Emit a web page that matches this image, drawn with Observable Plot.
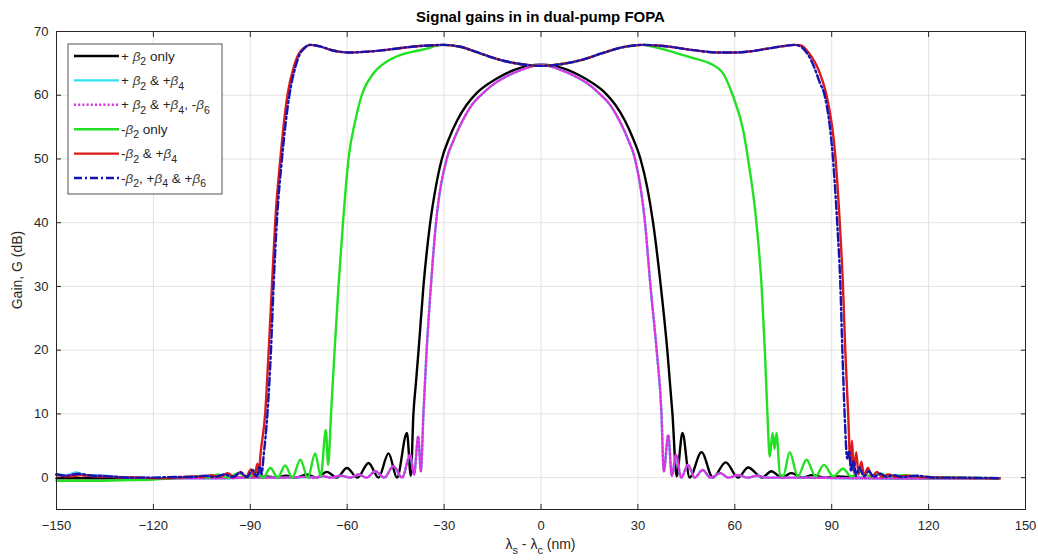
<!DOCTYPE html>
<html><head><meta charset="utf-8">
<script src="https://cdn.jsdelivr.net/npm/d3@7"></script>
<script src="https://cdn.jsdelivr.net/npm/@observablehq/plot@0.6"></script>
<style>
body{margin:0;background:#fff;}
#chart{width:1038px;height:560px;}
svg{font-family:"Liberation Sans",Arial,Helvetica,sans-serif;}
</style></head><body><div id="chart"></div>
<script>
const titleText = "Signal gains in in dual-pump FOPA";
const xLabel = "λ_s - λ_c (nm)";
const yLabel = "Gain, G (dB)";
const xTicks = [-150,-120,-90,-60,-30,0,30,60,90,120,150];
const yTicks = [0,10,20,30,40,50,60,70];

const seriesNames = ["+ β_2 only","+ β_2 & +β_4","+ β_2 & +β_4, -β_6","-β_2 only","-β_2 & +β_4","-β_2, +β_4 & +β_6"];
const seriesColors = ["#000000","#33e0f0","#e030e0","#22e022","#dd1a1a","#1414b4"];
const seriesDash = [null,null,"2,2.2",null,null,"8,3,2,3"];

const black = [[-150,-0.1],[-135,-0.1],[-120,-0.1],[-105,0],[-95,0],[-88,0.05],[-85,0.2],[-82,0],[-79,0.3],[-76,0],[-72.5,0.5],[-69.5,0],[-66.3,0.9],[-63.2,0],[-60.1,1.5],[-56.8,0],[-53.4,2.3],[-50.3,0],[-47.2,3.8],[-44.6,0],[-41.5,7.0],[-40.3,0.3],[-39.5,10],[-38.7,15],[-37.9,20],[-36.4,30],[-34.3,40],[-32.6,45.5],[-30.7,50],[-28.5,53.2],[-26,56],[-23,58.5],[-20,60.3],[-16,61.9],[-12,63.1],[-8,64],[-4,64.6],[0,64.8],[4,64.6],[8,64],[12,63.1],[16,61.9],[20,60.3],[23,58.5],[26,56],[28.5,53.2],[30.8,50],[32.9,45.5],[34.7,40],[37.1,30],[39.1,20],[40.7,10],[42,0.2],[43.8,7.0],[46,0],[49.7,4.0],[53.2,0],[57.2,2.4],[61,0],[64.1,1.6],[68.5,0],[71.3,1.0],[74.5,0],[77.5,0.7],[81,0],[84,0.4],[88,0],[92,0.2],[97,0],[110,-0.1],[125,-0.1],[142,-0.1]];

const cyan = [[-150,0.6],[-147,0.4],[-144,0.8],[-141,0.4],[-137,0.4],[-132,0.15],[-125,0],[-115,-0.1],[-100,-0.1],[-90,0],[-80,0],[-73,0.1],[-70,0],[-67.5,0.2],[-65,0],[-62,0.3],[-59,0],[-56.5,0.5],[-54,0],[-51.3,1.0],[-48.5,0],[-45.7,1.8],[-43,0],[-40.5,3.5],[-39.3,0.5],[-38,6.4],[-37.2,1],[-36.4,10],[-35.4,20],[-34.1,30],[-32.5,40],[-29.2,50],[-27,53],[-24.5,55.8],[-21.5,58.4],[-18,60.3],[-14.5,61.8],[-10.5,63],[-6.5,63.9],[-3,64.5],[0,64.8],[3,64.5],[6.5,63.9],[10.5,63],[14.5,61.8],[18,60.3],[21.5,58.4],[24.5,55.8],[27,53],[29.1,50],[32.2,40],[33.9,30],[35.8,20],[37.3,10],[38,1],[39.4,6.6],[40.5,0.3],[41.8,3.5],[43.4,0],[45.5,2.0],[47.6,0],[50,1.2],[52.5,0],[55.5,0.7],[58,0],[61,0.4],[64,0],[67,0.3],[70,0],[80,0],[100,-0.1],[120,-0.1],[142,-0.1]];

const magenta = [[-150,0.5],[-147,0.3],[-144,0.6],[-141,0.3],[-137,0.3],[-132,0.1],[-125,0],[-115,-0.1],[-100,-0.1],[-90,0],[-80,0],[-73,0.1],[-70,0],[-67.5,0.2],[-65,0],[-62,0.3],[-59,0],[-56.5,0.5],[-54,0],[-51.3,1.0],[-48.5,0],[-45.7,1.8],[-43,0],[-40.5,3.6],[-39.3,0.5],[-38,6.5],[-37.2,1],[-36.4,10],[-35.4,20],[-34.1,30],[-32.5,40],[-29.2,50],[-27,53],[-24.5,55.8],[-21.5,58.4],[-18,60.3],[-14.5,61.8],[-10.5,63],[-6.5,63.9],[-3,64.5],[0,64.8],[3,64.5],[6.5,63.9],[10.5,63],[14.5,61.8],[18,60.3],[21.5,58.4],[24.5,55.8],[27,53],[29.1,50],[32.2,40],[33.9,30],[35.8,20],[37.3,10],[38,1],[39.4,6.7],[40.5,0.3],[41.8,3.6],[43.4,0],[45.5,2.0],[47.6,0],[50,1.2],[52.5,0],[55.5,0.7],[58,0],[61,0.4],[64,0],[67,0.3],[70,0],[80,0],[100,-0.1],[120,-0.1],[142,-0.1]];

const green = [[-150,-0.5],[-140,-0.5],[-130,-0.4],[-120,-0.3],[-112,0],[-106,0.2],[-103,0],[-100,0.5],[-97,0],[-93.5,0.7],[-91,0],[-88.3,1.0],[-86,0],[-83.8,1.5],[-81.5,0],[-79.2,1.9],[-77,0],[-74.5,2.8],[-72.2,0],[-69.9,3.8],[-68.2,0.2],[-66.6,7.5],[-65.9,2.0],[-65,10],[-63.9,20],[-62.7,30],[-61.3,40],[-59.6,50],[-57.5,56],[-55.5,60],[-51.9,63.4],[-47.7,65.3],[-43.6,66.3],[-39,66.9],[-35.4,67.3],[-32.3,67.8],[-30.2,67.9],[-25,67.6],[-19,66.6],[-13,65.6],[-6.5,64.9],[0,64.6],[6.5,64.9],[13,65.6],[19,66.6],[25,67.5],[31.6,67.9],[33.7,67.7],[38,67.2],[44,66.3],[48,65.7],[52.3,65],[56.4,63.4],[59.5,59.8],[62.6,54.5],[64.1,50],[66.7,40],[68.3,30],[69.3,20],[70.1,10],[70.8,3.3],[71.7,7.0],[72.3,4.5],[72.9,7.0],[74,0.5],[75,0.3],[77,4.0],[79.5,0.2],[82.2,2.8],[85,0.2],[87.6,2.0],[90.5,0.2],[93.5,1.4],[96,0.2],[99,0.9],[102,0.2],[105,0.6],[108,0.2],[112,0.4],[116,0.2],[120,0.1],[130,0],[142,-0.1]];

const red = [[-150,0.4],[-146,0.2],[-142,0.4],[-138,0.2],[-132,0.1],[-125,0],[-118,-0.1],[-112,0],[-108,0.2],[-105,0.1],[-102,0.4],[-99.5,0.1],[-97,0.7],[-95,0.1],[-93,0.9],[-91.3,0.1],[-89.8,1.3],[-88.7,0.2],[-87.8,2.2],[-87.3,0.6],[-86.9,3.3],[-85.4,10],[-84.3,20],[-83.3,30],[-82.3,40],[-80.7,50],[-78.5,60],[-76.5,64.5],[-75.2,66.3],[-73.5,67.4],[-71.4,67.9],[-68,67.6],[-65,67.1],[-62,66.8],[-59,66.7],[-55,66.8],[-50,67.0],[-45,67.3],[-40,67.6],[-35,67.8],[-30.2,67.9],[-25,67.6],[-19,66.6],[-13,65.6],[-6.5,64.9],[0,64.6],[6.5,64.9],[13,65.6],[19,66.6],[25,67.5],[31.6,67.9],[36,67.8],[40,67.6],[44,67.3],[50,66.9],[55,66.7],[59.5,66.7],[65,66.9],[70,67.3],[75,67.7],[78.6,67.9],[80.5,67.8],[82.2,67.1],[83.8,66],[85.3,64.7],[87,62.5],[88.4,60],[91.2,50],[92.5,40],[93.5,30],[94.2,20],[95.1,10],[95.8,2],[96.3,5.8],[96.8,0.8],[97.6,4],[98.3,0.5],[99.2,2.5],[100,0.3],[101.2,1.5],[102.5,0.2],[104,0.9],[105.5,0.1],[107.5,0.5],[110,0.1],[113,0.3],[118,0.1],[125,0],[142,-0.1]];

const blue = [[-150,0.5],[-147,0.3],[-143,0.6],[-139,0.3],[-134,0.2],[-128,0],[-120,0],[-113,0.1],[-108,0.1],[-104,0.3],[-101,0.1],[-98,0.5],[-95.5,0.1],[-93,0.8],[-91,0.1],[-89.3,1.2],[-88,0.2],[-87,1.8],[-86.5,0.5],[-85.9,3.3],[-84.7,10],[-83.6,20],[-82.8,30],[-81.8,40],[-80.2,50],[-77.9,60],[-76,64.5],[-74.8,66.3],[-73.2,67.4],[-71.4,67.9],[-68,67.6],[-65,67.1],[-62,66.8],[-59,66.7],[-55,66.8],[-50,67.0],[-45,67.3],[-40,67.6],[-35,67.8],[-30.2,67.9],[-25,67.6],[-19,66.6],[-13,65.6],[-6.5,64.9],[0,64.6],[6.5,64.9],[13,65.6],[19,66.6],[25,67.5],[31.6,67.9],[36,67.8],[40,67.6],[44,67.3],[50,66.9],[55,66.7],[59.5,66.7],[65,66.9],[70,67.3],[75,67.7],[78.6,67.9],[80.5,67.6],[82.5,66.5],[84.5,64.5],[86.3,62],[87.8,60],[90.4,50],[91.7,40],[92.7,30],[93.3,20],[94.0,10],[94.8,3],[95.4,4.2],[96,1],[96.8,2.6],[97.5,0.3],[98.5,1.6],[100,0.2],[101.5,1.0],[103,0.1],[105,0.6],[107,0.1],[109,0.4],[112,0.1],[116,0.3],[122,0],[130,0],[142,-0.1]];

const seriesData = [black, cyan, magenta, green, red, blue];

const lineMarks = seriesData.map((pts, i) => Plot.line(pts, {
  x: d => d[0], y: d => d[1],
  stroke: seriesColors[i], strokeWidth: 2.4,
  strokeDasharray: seriesDash[i] || undefined,
  curve: "monotone-x"
}));

const plot = Plot.plot({
  width: 1038, height: 560,
  marginLeft: 56, marginRight: 13, marginTop: 31, marginBottom: 51,
  x: {domain: [-150, 150]},
  y: {domain: [-5, 70]},
  style: {fontFamily: '"Liberation Sans", Arial, Helvetica, sans-serif', fontSize: "13px", color: "#262626", background: "#fff"},
  marks: [
    Plot.gridX(xTicks, {stroke: "#e3e3e3", strokeOpacity: 1, strokeWidth: 1}),
    Plot.gridY(yTicks, {stroke: "#e3e3e3", strokeOpacity: 1, strokeWidth: 1}),
    ...lineMarks,
    Plot.frame({stroke: "#262626", strokeWidth: 1}),
    Plot.axisX(xTicks, {anchor: "bottom", tickSize: -5, tickPadding: 16, label: null, fill: "#262626", stroke: "#262626", fontSize: 13}),
    Plot.axisX(xTicks, {anchor: "top", tickSize: -5, tickFormat: () => "", label: null, stroke: "#262626"}),
    Plot.axisY(yTicks, {anchor: "left", tickSize: -5, tickPadding: 13, label: null, fill: "#262626", stroke: "#262626", fontSize: 13}),
    Plot.axisY(yTicks, {anchor: "right", tickSize: -5, tickFormat: () => "", label: null, stroke: "#262626"})
  ]
});
document.getElementById("chart").appendChild(plot);

// Build text with subscripts: "_X" marks X as a subscript character.
function richText(sel, str, size, styleGreek) {
  const segs = [];
  for (let i = 0; i < str.length; i++) {
    if (str[i] === "_") { segs.push({t: str[i + 1], sub: true}); i++; }
    else {
      const greek = styleGreek && (str[i] === "β");
      const last = segs[segs.length - 1];
      if (last && !last.sub && !last.greek && !greek) last.t += str[i];
      else segs.push({t: str[i], sub: false, greek});
    }
  }
  const shift = size * 0.35;
  let down = false;
  segs.forEach(s => {
    const ts = sel.append("tspan").text(s.t);
    if (s.sub) {
      ts.attr("font-size", size * 0.78);
      if (!down) { ts.attr("dy", shift); down = true; }
    } else {
      ts.attr("font-size", size);
      if (down) { ts.attr("dy", -shift); down = false; }
      if (s.greek) ts.attr("font-style", "italic").attr("fill", "#444");
    }
  });
}

const svg = d3.select(plot);
const xs = plot.scale("x"), ys = plot.scale("y");
const cx = (xs.range[0] + xs.range[1]) / 2;

svg.append("text").attr("x", cx).attr("y", 22).attr("text-anchor", "middle")
  .attr("font-weight", "bold").attr("font-size", 15).attr("fill", "#000").text(titleText);

const xl = svg.append("text").attr("x", cx).attr("y", 549).attr("text-anchor", "middle")
  .attr("fill", "#262626").style("white-space", "pre");
richText(xl, xLabel, 14, false);

const yc = (ys.range[0] + ys.range[1]) / 2;
svg.append("text").attr("transform", `translate(22,${yc}) rotate(-90)`).attr("text-anchor", "middle")
  .attr("font-size", 14).attr("fill", "#262626").text(yLabel);

const lg = svg.append("g").attr("transform", "translate(68,44)");
lg.append("rect").attr("width", 154).attr("height", 150).attr("fill", "#fff").attr("stroke", "#262626").attr("stroke-width", 0.8);
seriesNames.forEach((name, i) => {
  const yy = 12 + i * 24.4;
  lg.append("line").attr("x1", 6).attr("x2", 51).attr("y1", yy).attr("y2", yy)
    .attr("stroke", seriesColors[i]).attr("stroke-width", 2.4)
    .attr("stroke-dasharray", seriesDash[i] || null);
  const t = lg.append("text").attr("x", 53).attr("y", yy + 4.5).attr("text-anchor", "start")
    .attr("fill", "#262626").style("white-space", "pre");
  richText(t, name, 13.5, true);
});
</script></body></html>
